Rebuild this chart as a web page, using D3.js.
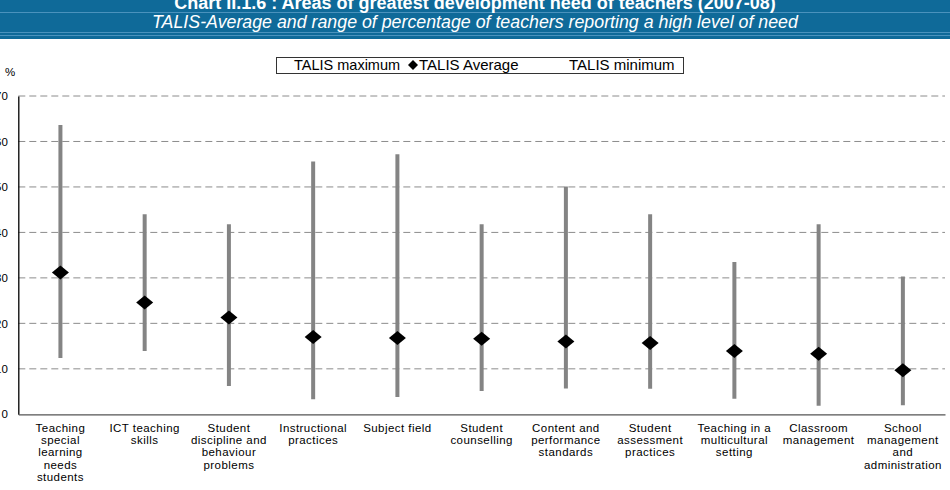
<!DOCTYPE html>
<html>
<head>
<meta charset="utf-8">
<script src="https://cdn.jsdelivr.net/npm/d3@7/dist/d3.min.js"></script>
<style>
  body { margin: 0; background: #fff; }
  text { font-family: "Liberation Sans", Arial, sans-serif; }
</style>
</head>
<body>
<div id="chart"></div>
<script>
const categories = [
  'Teaching special learning needs students',
  'ICT teaching skills',
  'Student discipline and behaviour problems',
  'Instructional practices',
  'Subject field',
  'Student counselling',
  'Content and performance standards',
  'Student assessment practices',
  'Teaching in a multicultural setting',
  'Classroom management',
  'School management and administration'
];
const tickLabels = [
  ['Teaching', 'special', 'learning', 'needs', 'students'],
  ['ICT teaching', 'skills'],
  ['Student', 'discipline and', 'behaviour', 'problems'],
  ['Instructional', 'practices'],
  ['Subject field'],
  ['Student', 'counselling'],
  ['Content and', 'performance', 'standards'],
  ['Student', 'assessment', 'practices'],
  ['Teaching in a', 'multicultural', 'setting'],
  ['Classroom', 'management'],
  ['School', 'management', 'and', 'administration']
];
const talisMax = [63.6, 44.0, 41.8, 55.6, 57.2, 41.8, 50.1, 44.0, 33.5, 41.8, 30.3];
const talisAvg = [31.2, 24.6, 21.3, 17.0, 16.8, 16.6, 16.0, 15.7, 13.9, 13.3, 9.7];
const talisMin = [12.4, 13.9, 6.2, 3.3, 3.8, 5.1, 5.7, 5.6, 3.4, 1.9, 2.0];
const yTicks = [0, 10, 20, 30, 40, 50, 60, 70];

const title = 'Chart II.1.6 : Areas of greatest development need of teachers (2007-08)';
const subtitle = 'TALIS-Average and range of percentage of teachers reporting a high level of need';

const width = 950;
const height = 490;
const plotLeft = 18.3;
const plotRight = 945;
const plotTop = 96;
const plotBottom = 414.3;

const svg = d3.select('#chart').append('svg')
  .attr('width', width)
  .attr('height', height);

/* Header */
svg.append('rect')
  .attr('x', 0).attr('y', 0)
  .attr('width', width).attr('height', 39)
  .attr('fill', '#0f6a99');
[12.5, 32.5, 35.5].forEach(yy => {
  svg.append('line')
    .attr('x1', 0).attr('x2', width)
    .attr('y1', yy).attr('y2', yy)
    .attr('stroke', '#4a92bd')
    .attr('stroke-width', 1);
});
svg.append('text')
  .attr('x', width / 2).attr('y', 9)
  .attr('text-anchor', 'middle')
  .attr('fill', '#fff')
  .style('font-size', '18px')
  .style('font-weight', 'bold')
  .text(title);
svg.append('text')
  .attr('x', width / 2).attr('y', 27.5)
  .attr('text-anchor', 'middle')
  .attr('fill', '#fff')
  .style('font-size', '17.8px')
  .style('font-style', 'italic')
  .text(subtitle);

/* Scales */
const x = d3.scaleBand()
  .domain(categories)
  .range([plotLeft, plotRight]);

const y = d3.scaleLinear()
  .domain([0, 70])
  .range([plotBottom, plotTop]);

/* Grid */
svg.append('g')
  .selectAll('line')
  .data(yTicks.filter(d => d > 0)).enter()
  .append('line')
  .attr('x1', plotLeft).attr('x2', plotRight)
  .attr('y1', d => y(d)).attr('y2', d => y(d))
  .attr('stroke', '#8c8c8c')
  .attr('stroke-width', 1)
  .attr('stroke-dasharray', '7,4');

/* Y axis */
const yAxis = d3.axisLeft(y)
  .tickValues(yTicks)
  .tickSize(0)
  .tickPadding(10);

svg.append('g')
  .attr('transform', `translate(${plotLeft},0)`)
  .call(yAxis)
  .call(g => {
    g.select('.domain').attr('stroke', '#000').attr('stroke-width', 1.3);
    g.selectAll('.tick text')
      .attr('fill', '#000')
      .style('font-size', '11.5px')
      .style('letter-spacing', '0.3px')
      .style('font-family', '"Liberation Sans", Arial, sans-serif');
  });

svg.append('text')
  .attr('x', 10).attr('y', 76)
  .attr('text-anchor', 'middle')
  .style('font-size', '11.5px')
  .text('%');

/* X axis */
const xAxis = d3.axisBottom(x)
  .tickSize(0)
  .tickPadding(10)
  .tickFormat('');

svg.append('g')
  .attr('transform', `translate(0,${plotBottom})`)
  .call(xAxis)
  .call(g => {
    g.select('.domain').attr('stroke', '#555').attr('stroke-width', 1.3);
    g.selectAll('.tick').each(function(d, i) {
      const t = d3.select(this).append('text')
        .attr('fill', '#000')
        .attr('text-anchor', 'middle')
        .style('font-size', '11.5px')
        .style('letter-spacing', '0.45px')
        .style('font-family', '"Liberation Sans", Arial, sans-serif');
      tickLabels[i].forEach((line, j) => {
        t.append('tspan')
          .attr('x', 0)
          .attr('y', 17.5 + j * 12.3)
          .text(line);
      });
    });
  });

/* Range lines */
const cx = d => x(d) + x.bandwidth() / 2;

svg.append('g')
  .selectAll('line')
  .data(categories).enter()
  .append('line')
  .attr('x1', cx).attr('x2', cx)
  .attr('y1', (d, i) => y(talisMax[i]))
  .attr('y2', (d, i) => y(talisMin[i]))
  .attr('stroke', '#848484')
  .attr('stroke-width', 4);

/* Average diamonds */
const diamond = (w, h) => `M0,${-h}L${w},0L0,${h}L${-w},0Z`;

svg.append('g')
  .selectAll('path')
  .data(categories).enter()
  .append('path')
  .attr('transform', (d, i) => `translate(${cx(d)},${y(talisAvg[i])})`)
  .attr('d', diamond(8.5, 7))
  .attr('fill', '#000');

/* Legend */
const legend = svg.append('g');
legend.append('rect')
  .attr('x', 276.5).attr('y', 57.5)
  .attr('width', 407).attr('height', 16)
  .attr('fill', '#fff')
  .attr('stroke', '#333')
  .attr('stroke-width', 1);
legend.append('text')
  .attr('x', 294).attr('y', 70)
  .style('font-size', '14.5px')
  .text('TALIS maximum');
legend.append('path')
  .attr('transform', 'translate(413,65)')
  .attr('d', diamond(5, 5))
  .attr('fill', '#000');
legend.append('text')
  .attr('x', 419).attr('y', 70)
  .style('font-size', '15px')
  .text('TALIS Average');
legend.append('text')
  .attr('x', 569).attr('y', 70)
  .style('font-size', '15px')
  .text('TALIS minimum');
</script>
</body>
</html>
